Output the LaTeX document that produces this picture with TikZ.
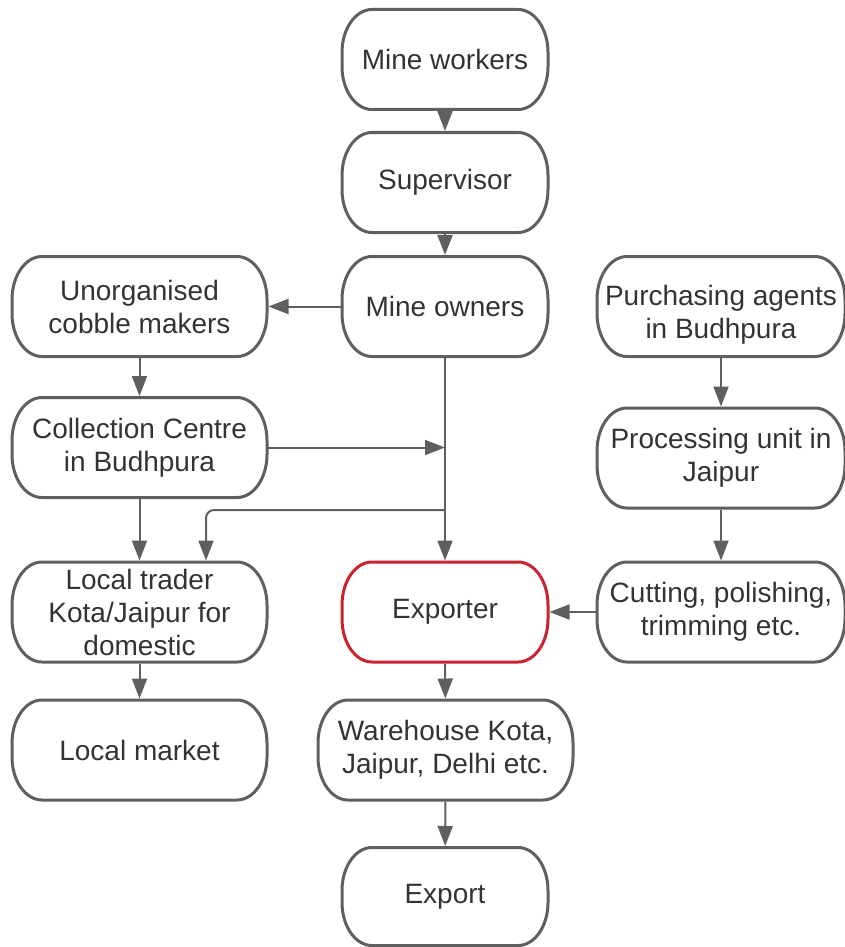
\documentclass[tikz,border=0pt]{standalone}
\usepackage{fontspec}
\setmainfont{Liberation Sans}
\usetikzlibrary{arrows.meta}
\definecolor{edgec}{HTML}{5F5F5F}
\definecolor{txtc}{HTML}{333333}
\definecolor{redb}{HTML}{C8232F}
\newcommand\eboxline[2]{%
  \draw[line width=3pt, draw=#2, line join=round]
    ([xshift=30pt]#1.north west) -- ([xshift=-30pt]#1.north east)
    arc[start angle=90, end angle=0, x radius=30pt, y radius=43pt]
    -- ([yshift=43pt]#1.south east)
    arc[start angle=0, end angle=-90, x radius=30pt, y radius=43pt]
    -- ([xshift=30pt]#1.south west)
    arc[start angle=270, end angle=180, x radius=30pt, y radius=43pt]
    -- ([yshift=-43pt]#1.north west)
    arc[start angle=180, end angle=90, x radius=30pt, y radius=43pt]
    -- cycle;}
\begin{document}
\begin{tikzpicture}[x=1pt,y=-1pt,
  box/.style={shape=rectangle, text=txtc, align=center, inner sep=0pt, outer sep=0pt, font=\fontsize{28}{33}\selectfont, minimum height=100pt},
  lw/.style={box, minimum width=255pt},
  cw/.style={box, minimum width=206pt},
  rw/.style={box, minimum width=248pt},
  link/.style={draw=edgec, line width=2pt, shorten >=1.5pt, shorten <=1.5pt, -{Triangle[length=20pt,width=15pt]}}]
\useasboundingbox (0,0) rectangle (845,947);
\node[cw] (mw) at (445,59.5) {Mine workers};
\node[cw] (sup) at (445,182.5) {Supervisor};
\node[cw] (mo) at (445,306.5) {Mine owners};
\node[lw] (uc) at (139.5,306.5) {Unorganised\\cobble makers};
\node[rw] (pa) at (721,306.5) {\raisebox{-9pt}[\height][\depth]{\begin{tabular}{@{}c@{}}Purchasing agents\\in Budhpura\end{tabular}}};
\node[lw] (cc) at (139.5,447.5) {Collection Centre\\in Budhpura};
\node[rw] (pu) at (721,458) {Processing unit in\\Jaipur};
\node[lw] (lt) at (139.5,612) {Local trader\\Kota/Jaipur for\\domestic};
\node[cw] (ex) at (445,612) {Exporter};
\node[rw] (cp) at (721,612) {Cutting, polishing,\\trimming etc.};
\node[lw] (lm) at (139.5,750) {Local market};
\node[lw] (wh) at (445.5,750) {Warehouse Kota,\\Jaipur, Delhi etc.};
\node[cw, minimum height=98pt] (exp) at (445,896.5) {Export};
\foreach \n in {mw,sup,mo,uc,pa,cc,pu,lt,cp,lm,wh,exp} {\eboxline{\n}{edgec}}
\eboxline{ex}{redb}
\coordinate (j1) at (445,447.5);
\coordinate (j2) at (445,510);
\coordinate (j3) at (206,510);
\draw[link] (mw) -- (sup);
\draw[link] (sup) -- (mo);
\draw[link] (mo) -- (uc);
\draw[link] (uc) -- (cc);
\draw[link] (pa) -- (pu);
\draw[link] (pu) -- (cp);
\draw[link] (cp) -- (ex);
\draw[link] (mo) -- (ex);
\draw[link, shorten <=0pt, shorten >=0pt] (cc) -- (j1);
\draw[link, shorten <=0pt, rounded corners=8pt] (j2) -- (j3) -- (j3 |- lt.north);
\draw[link] (cc) -- (lt);
\draw[link] (lt) -- (lm);
\draw[link] (ex) -- (wh);
\draw[link] (wh) -- (exp);
\end{tikzpicture}
\end{document}
